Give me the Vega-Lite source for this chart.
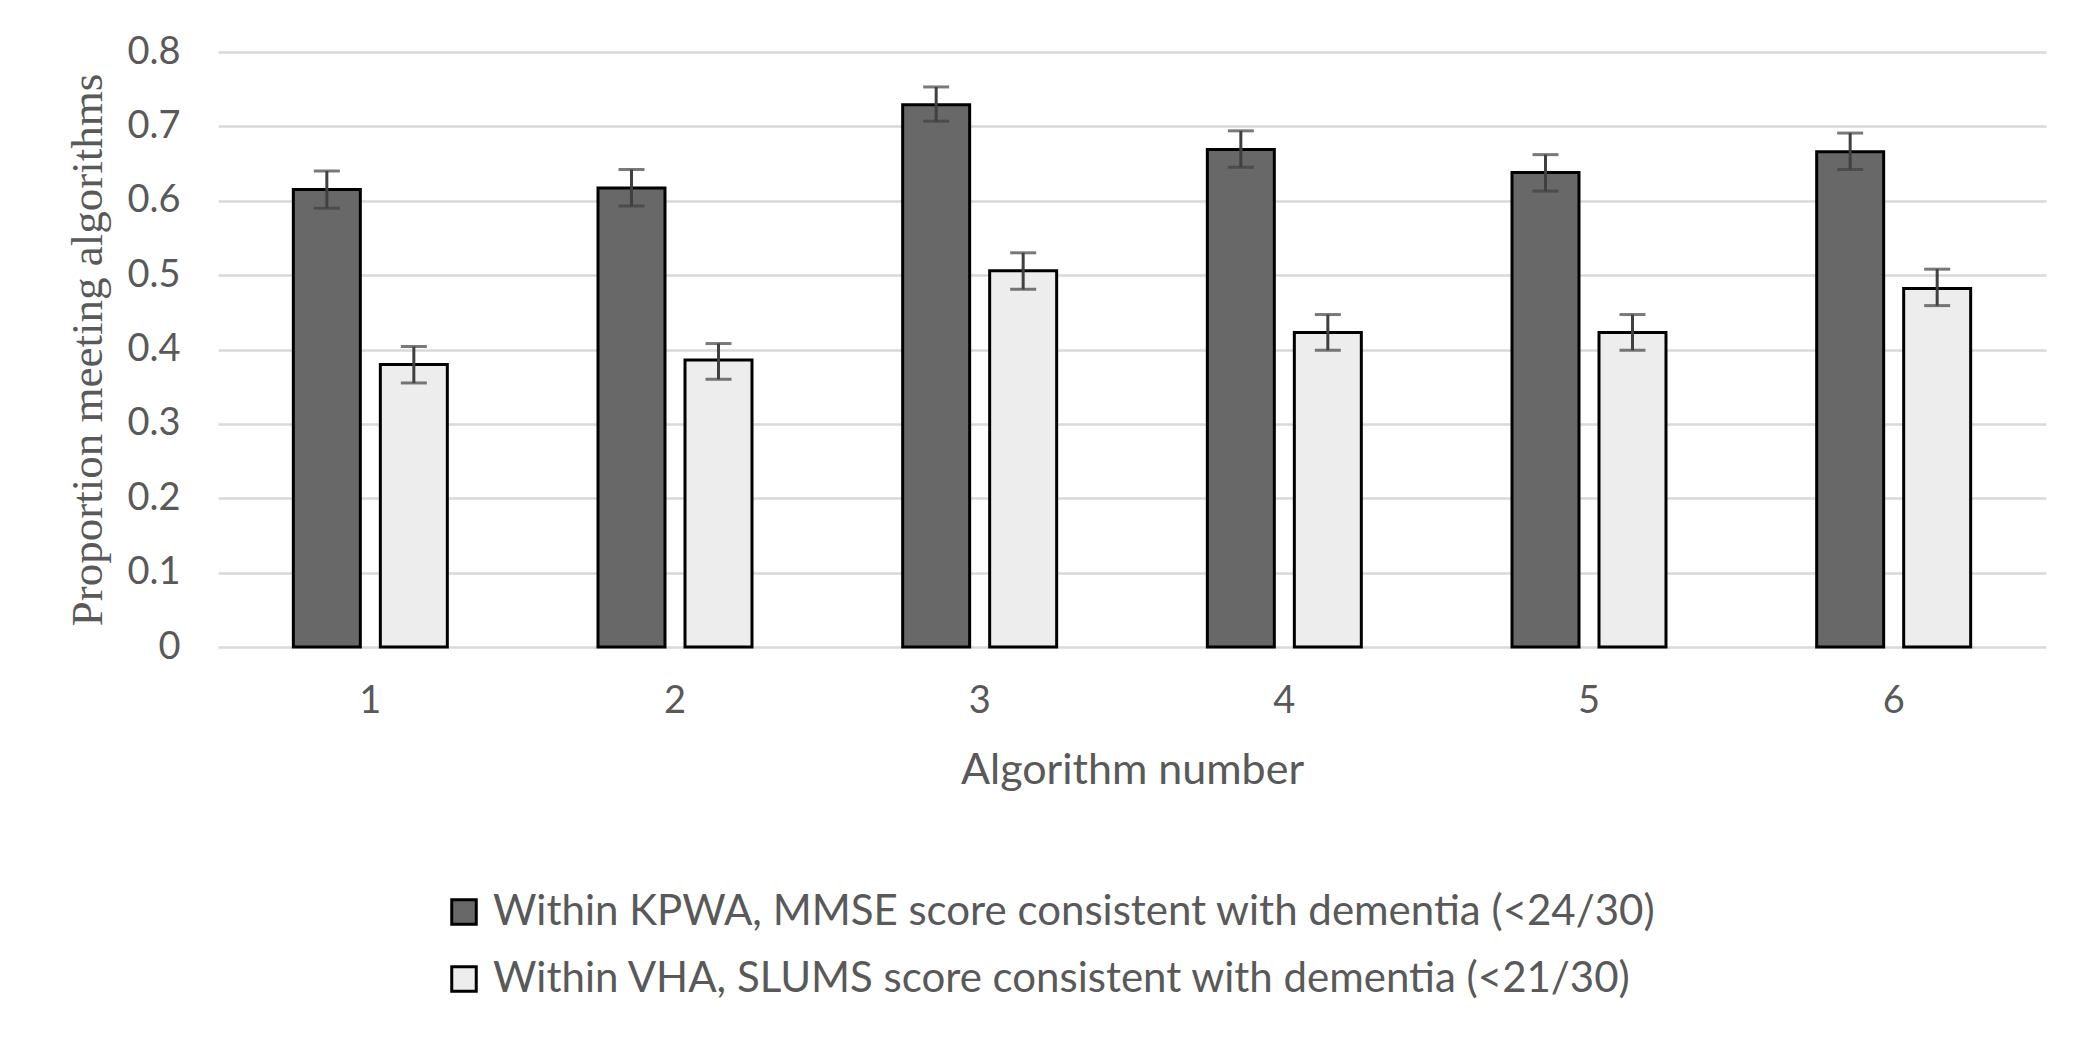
{
  "$schema": "https://vega.github.io/schema/vega-lite/v6.json",
  "autosize": "none",
  "padding": {"left": 218, "top": 52, "right": 54, "bottom": 396},
  "width": 1828,
  "height": 595,
  "background": "white",
  "config": {
    "view": {"stroke": null},
    "font": "Lato",
    "axis": {"labelColor": "#595959", "titleColor": "#595959", "labelFont": "Lato", "titleFont": "Lato", "titleFontWeight": "normal"},
    "legend": {"labelFont": "Lato", "labelColor": "#595959"}
  },
  "data": {
    "values": [
      {"alg": "1", "group": "Within KPWA, MMSE score consistent with dementia (<24/30)", "value": 0.615, "lo": 0.590, "hi": 0.640},
      {"alg": "1", "group": "Within VHA, SLUMS score consistent with dementia (<21/30)", "value": 0.380, "lo": 0.355, "hi": 0.404},
      {"alg": "2", "group": "Within KPWA, MMSE score consistent with dementia (<24/30)", "value": 0.617, "lo": 0.593, "hi": 0.642},
      {"alg": "2", "group": "Within VHA, SLUMS score consistent with dementia (<21/30)", "value": 0.386, "lo": 0.360, "hi": 0.408},
      {"alg": "3", "group": "Within KPWA, MMSE score consistent with dementia (<24/30)", "value": 0.729, "lo": 0.707, "hi": 0.753},
      {"alg": "3", "group": "Within VHA, SLUMS score consistent with dementia (<21/30)", "value": 0.506, "lo": 0.481, "hi": 0.530},
      {"alg": "4", "group": "Within KPWA, MMSE score consistent with dementia (<24/30)", "value": 0.669, "lo": 0.645, "hi": 0.694},
      {"alg": "4", "group": "Within VHA, SLUMS score consistent with dementia (<21/30)", "value": 0.423, "lo": 0.399, "hi": 0.447},
      {"alg": "5", "group": "Within KPWA, MMSE score consistent with dementia (<24/30)", "value": 0.638, "lo": 0.613, "hi": 0.662},
      {"alg": "5", "group": "Within VHA, SLUMS score consistent with dementia (<21/30)", "value": 0.423, "lo": 0.399, "hi": 0.447},
      {"alg": "6", "group": "Within KPWA, MMSE score consistent with dementia (<24/30)", "value": 0.666, "lo": 0.642, "hi": 0.691},
      {"alg": "6", "group": "Within VHA, SLUMS score consistent with dementia (<21/30)", "value": 0.482, "lo": 0.459, "hi": 0.508}
    ]
  },
  "encoding": {
    "x": {
      "field": "alg", "type": "nominal",
      "scale": {"paddingInner": 0, "paddingOuter": 0},
      "axis": {"title": "Algorithm number", "labelAngle": 0, "labelFontSize": 38, "titleFontSize": 43, "labelPadding": 35, "titlePadding": 29, "domain": false, "ticks": false, "grid": false}
    },
    "xOffset": {
      "field": "group", "type": "nominal",
      "scale": {"paddingInner": 0.23, "paddingOuter": 0.866}
    }
  },
  "layer": [
    {
      "mark": {"type": "bar", "stroke": "black", "strokeWidth": 3},
      "encoding": {
        "y": {
          "field": "value", "type": "quantitative",
          "scale": {"domain": [0, 0.8], "nice": false},
          "axis": {
            "title": "Proportion meeting algorithms",
            "titleFont": "Liberation Serif", "titleFontSize": 45, "titlePadding": 16,
            "values": [0, 0.1, 0.2, 0.3, 0.4, 0.5, 0.6, 0.7, 0.8],
            "format": ".1~f", "labelFontSize": 38, "labelPadding": 38,
            "domain": false, "ticks": false,
            "gridColor": "#d9d9d9", "gridWidth": 2.5
          }
        },
        "fill": {
          "field": "group", "type": "nominal",
          "scale": {"range": ["#686868", "#ededed"]},
          "legend": {
            "title": null, "orient": "none", "legendX": 225, "legendY": 839,
            "direction": "vertical", "symbolType": "square", "symbolSize": 600,
            "symbolStrokeColor": "black", "symbolStrokeWidth": 3, "symbolOpacity": 1,
            "labelFontSize": 42, "labelOffset": 8, "rowPadding": 25, "labelLimit": 2000
          }
        }
      }
    },
    {
      "mark": {"type": "rule", "color": "#404040", "strokeWidth": 3},
      "encoding": {
        "y": {"field": "lo", "type": "quantitative"},
        "y2": {"field": "hi"}
      }
    },
    {
      "mark": {"type": "tick", "color": "#404040", "thickness": 3, "size": 26},
      "encoding": {
        "y": {"field": "lo", "type": "quantitative"}
      }
    },
    {
      "mark": {"type": "tick", "color": "#404040", "thickness": 3, "size": 26},
      "encoding": {
        "y": {"field": "hi", "type": "quantitative"}
      }
    }
  ]
}
